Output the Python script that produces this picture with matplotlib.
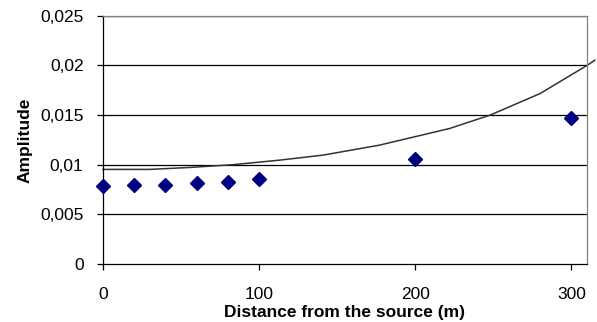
import matplotlib
matplotlib.use("Agg")
import matplotlib.pyplot as plt

# Datos
distancia = [0, 20, 40, 60, 80, 100, 200, 300]
amplitud = [0.0079, 0.00795, 0.0080, 0.0082, 0.0083, 0.00855, 0.01053, 0.01466]

# Linea de tendencia
tend_x = [0, 30, 56, 83, 113, 141, 177, 222, 248, 280, 310, 315]
tend_y = [0.00953, 0.00953, 0.00973, 0.0100, 0.01046, 0.01097, 0.01197,
          0.01365, 0.0150, 0.01717, 0.0200, 0.02052]

x_ticks = [0, 100, 200, 300]
y_ticks = [0, 0.005, 0.01, 0.015, 0.02, 0.025]
y_labels = ["0", "0,005", "0,01", "0,015", "0,02", "0,025"]

plt.rcParams['font.family'] = ['Liberation Sans', 'DejaVu Sans']
FS = 12.5

fig = plt.figure(figsize=(5.97, 3.22), dpi=100)
ax = fig.add_axes([0.1725, 0.180, 0.8107, 0.771])

for yv in y_ticks[1:]:
    ax.axhline(yv, color="black", linewidth=0.9, zorder=1)

ax.plot(tend_x, tend_y, color="#333333", linewidth=1.1, zorder=2, clip_on=False)
ax.plot(distancia, amplitud, linestyle="none", marker="D", markersize=7,
        color="#000080", zorder=3, clip_on=False)

ax.set_xlim(0, 310)
ax.set_ylim(0, 0.025)
ax.set_xticks(x_ticks)
ax.set_xticklabels([str(v) for v in x_ticks])
ax.set_yticks(y_ticks)
ax.set_yticklabels(y_labels)

ax.tick_params(axis="both", direction="out", length=4.5, width=0.9,
               labelsize=FS, colors="black")
ax.tick_params(axis="x", pad=12)
ax.tick_params(axis="y", pad=9.5)

ax.spines["left"].set_color("black")
ax.spines["bottom"].set_color("black")
ax.spines["top"].set_color("#808080")
ax.spines["right"].set_color("#808080")
for s in ax.spines.values():
    s.set_linewidth(0.9)

ax.set_xlabel("Distance from the source (m)", fontsize=FS, fontweight="bold",
              va="baseline")
ax.xaxis.set_label_coords(0.5, -0.212)
ax.set_ylabel("Amplitude", fontsize=FS, fontweight="bold", va="baseline")
ax.yaxis.set_label_coords(-0.151, 0.5)

fig.savefig("out.png", dpi=100)
